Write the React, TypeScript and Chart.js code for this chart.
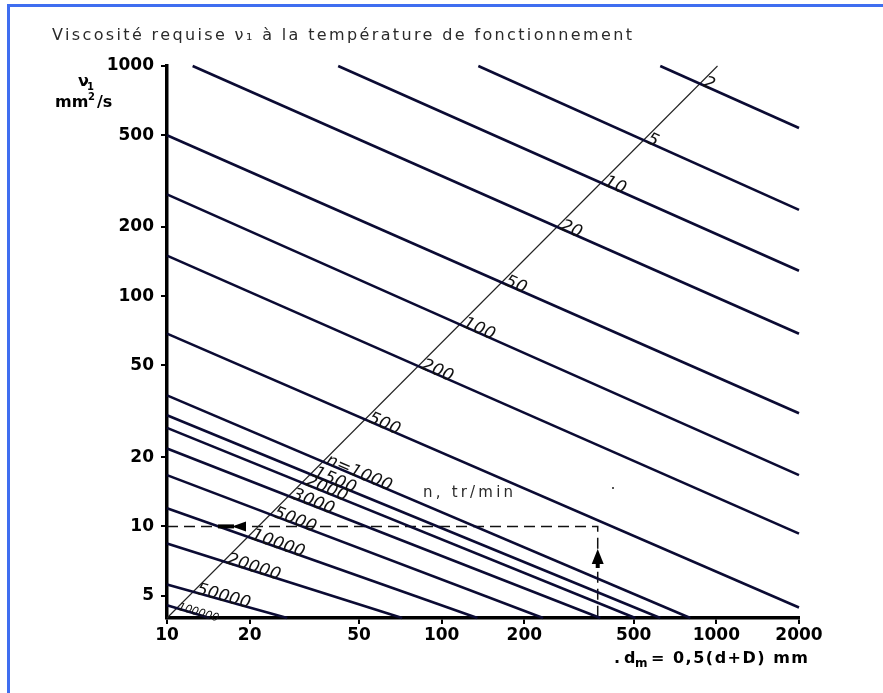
import React, { useEffect, useRef } from 'react';
import { Chart, registerables } from 'chart.js';

Chart.register(...registerables);

// Speed labels (n, tr/min) for each line
const speeds = ['2', '5', '10', '20', '50', '100', '200', '500', 'n=1000', '1500', '2000', '3000', '5000', '10000', '20000', '50000', '100000'];
// Line start points (dm mm, viscosity mm²/s)
const startDm = [625, 136, 42, 12.4, 10, 10, 10, 10, 10, 10, 10, 10, 10, 10, 10, 10, 10];
const startNu = [1000, 1000, 1000, 1000, 500, 277, 150, 68.8, 37.1, 30.4, 26.8, 21.8, 16.7, 12.0, 8.43, 5.59, 4.54];
// Line end points
const endDm = [2000, 2000, 2000, 2000, 2000, 2000, 2000, 2000, 804, 625, 507, 378, 234, 135, 71.8, 27.4, 14.3];
const endNu = [538, 237, 129, 68.7, 31.0, 16.7, 9.3, 4.44, 4, 4, 4, 4, 4, 4, 4, 4, 4];
// Speed reference diagonal
const diagDm = [10, 1010];
const diagNu = [4, 1000];
// Worked example
const exampleDm = [10, 370, 370];
const exampleNu = [10, 10, 4];
// Axis ticks
const xTicks = [10, 20, 50, 100, 200, 500, 1000, 2000];
const yTicks = [5, 10, 20, 50, 100, 200, 500, 1000];

const W = 883;
const H = 693;

function fitText(ctx: CanvasRenderingContext2D, text: string, x: number, y: number, targetW: number) {
  (ctx as any).letterSpacing = '0px';
  const w = ctx.measureText(text).width;
  const n = Math.max(1, text.length - 1);
  const ls = (targetW - w) / n;
  (ctx as any).letterSpacing = `${ls}px`;
  ctx.fillText(text, x, y);
  (ctx as any).letterSpacing = '0px';
}

const decorPlugin = {
  id: 'decor',
  beforeDraw(chart: any) {
    const ctx = chart.ctx as CanvasRenderingContext2D;
    ctx.save();
    ctx.fillStyle = '#ffffff';
    ctx.fillRect(0, 0, W, H);
    ctx.fillStyle = '#3f6ef0';
    ctx.fillRect(7, 4, W - 7, 3);
    ctx.fillRect(7, 4, 3, H - 4);
    ctx.restore();
  },
  afterDraw(chart: any) {
    const ctx = chart.ctx as CanvasRenderingContext2D;
    const xs = chart.scales.x;
    const ys = chart.scales.y;
    const area = chart.chartArea;
    ctx.save();

    // speed labels along the diagonal
    const dx1 = xs.getPixelForValue(diagDm[0]);
    const dy1 = ys.getPixelForValue(diagNu[0]);
    const dx2 = xs.getPixelForValue(diagDm[1]);
    const dy2 = ys.getPixelForValue(diagNu[1]);
    ctx.fillStyle = '#111';
    ctx.textBaseline = 'alphabetic';
    ctx.textAlign = 'left';
    speeds.forEach((lab, i) => {
      const ax = xs.getPixelForValue(startDm[i]);
      const ay = ys.getPixelForValue(startNu[i]);
      const bx = xs.getPixelForValue(endDm[i]);
      const by = ys.getPixelForValue(endNu[i]);
      const rx = bx - ax, ry = by - ay;
      const sx = dx2 - dx1, sy = dy2 - dy1;
      const den = rx * sy - ry * sx;
      const t = ((dx1 - ax) * sy - (dy1 - ay) * sx) / den;
      const px = ax + t * rx;
      const py = ay + t * ry;
      const ang = Math.atan2(ry, rx);
      ctx.save();
      ctx.translate(px, py);
      ctx.rotate(ang);
      const small = i === speeds.length - 1;
      ctx.font = `italic ${small ? 11 : 17}px "DejaVu Sans"`;
      (ctx as any).letterSpacing = small ? '0px' : '0.3px';
      ctx.fillText(lab, small ? 1 : 3, 1);
      (ctx as any).letterSpacing = '0px';
      ctx.restore();
    });

    // arrows on the worked example
    const yTen = ys.getPixelForValue(exampleNu[0]);
    const xEx = xs.getPixelForValue(exampleDm[1]);
    ctx.fillStyle = '#000';
    // horizontal arrow (pointing left)
    const hx = area.left + 51;
    ctx.fillRect(hx, yTen - 2, 16, 4);
    ctx.beginPath();
    ctx.moveTo(hx + 14, yTen);
    ctx.lineTo(hx + 28, yTen - 5);
    ctx.lineTo(hx + 28, yTen + 5);
    ctx.closePath();
    ctx.fill();
    // vertical arrow (pointing up)
    const vy = area.bottom - 69;
    ctx.beginPath();
    ctx.moveTo(xEx, vy);
    ctx.lineTo(xEx - 6, vy + 15);
    ctx.lineTo(xEx + 6, vy + 15);
    ctx.closePath();
    ctx.fill();
    ctx.fillRect(xEx - 2, vy + 14, 4, 5);

    // stray print dot
    ctx.fillStyle = '#555';
    ctx.fillRect(612, 487, 2, 2);

    // title
    ctx.fillStyle = '#2a2a2a';
    ctx.font = '16px "DejaVu Sans"';
    ctx.textAlign = 'left';
    fitText(ctx, 'Viscosité requise ν₁ à la température de fonctionnement', 52, 40, 580);

    // n, tr/min
    ctx.font = '15px "DejaVu Sans"';
    fitText(ctx, 'n, tr/min', 423, 497, 90);

    // y axis title
    ctx.fillStyle = '#000';
    ctx.font = 'bold 16px "DejaVu Sans"';
    ctx.fillText('ν', 78, 86);
    ctx.font = 'bold 10px "DejaVu Sans"';
    ctx.fillText('1', 87, 90);
    ctx.font = 'bold 16px "DejaVu Sans"';
    ctx.fillText('mm', 55, 107);
    ctx.font = 'bold 10px "DejaVu Sans"';
    ctx.fillText('2', 88, 100);
    ctx.font = 'bold 16px "DejaVu Sans"';
    ctx.fillText('/s', 97, 107);

    // x axis title
    ctx.font = 'bold 16px "DejaVu Sans"';
    ctx.fillText('.', 614, 663);
    ctx.fillText('d', 624, 663);
    ctx.font = 'bold 12px "DejaVu Sans"';
    ctx.fillText('m', 635, 667);
    ctx.font = 'bold 16px "DejaVu Sans"';
    fitText(ctx, '= 0,5(d+D) mm', 651, 663, 157);

    ctx.restore();
  },
};

export default function App() {
  const ref = useRef<HTMLCanvasElement | null>(null);

  useEffect(() => {
    if (!ref.current) return;
    const lineColor = '#0b0b33';
    const datasets: any[] = speeds.map((lab, i) => ({
      label: lab,
      data: [
        { x: startDm[i], y: startNu[i] },
        { x: endDm[i], y: endNu[i] },
      ],
      showLine: true,
      borderColor: lineColor,
      borderWidth: 2.6,
      pointRadius: 0,
      clip: false,
    }));
    datasets.push({
      label: 'diag',
      data: diagDm.map((d, i) => ({ x: d, y: diagNu[i] })),
      showLine: true,
      borderColor: '#222',
      borderWidth: 1.1,
      pointRadius: 0,
      clip: false,
    });
    datasets.push({
      label: 'example',
      data: exampleDm.map((d, i) => ({ x: d, y: exampleNu[i] })),
      showLine: true,
      borderColor: '#111',
      borderWidth: 1.5,
      borderDash: [11, 6],
      pointRadius: 0,
      clip: false,
    });

    const tickFont = { family: 'DejaVu Sans', weight: 'bold' as const, size: 17 };
    const chart = new Chart(ref.current, {
      type: 'scatter',
      data: { datasets },
      options: {
        responsive: false,
        animation: false,
        layout: { padding: { top: 66, right: 84, left: 0, bottom: 0 } },
        plugins: {
          legend: { display: false },
          tooltip: { enabled: false },
          title: { display: false },
        },
        scales: {
          x: {
            type: 'logarithmic',
            min: 10,
            max: 2000,
            afterBuildTicks: (s: any) => {
              s.ticks = xTicks.map((v) => ({ value: v }));
            },
            afterFit: (s: any) => {
              s.height = 75;
            },
            ticks: {
              autoSkip: false,
              maxRotation: 0,
              color: '#000',
              font: tickFont,
              padding: 1,
              callback: (v: any) => String(v),
            },
            grid: { drawOnChartArea: false, drawTicks: true, tickLength: 6, color: '#000', lineWidth: 2 },
            border: { display: true, color: '#000', width: 3.5 },
          },
          y: {
            type: 'logarithmic',
            min: 4,
            max: 1000,
            afterBuildTicks: (s: any) => {
              s.ticks = yTicks.map((v) => ({ value: v }));
            },
            afterFit: (s: any) => {
              s.width = 167;
            },
            ticks: {
              autoSkip: false,
              color: '#000',
              font: tickFont,
              padding: 7,
              callback: (v: any) => String(v),
            },
            grid: { drawOnChartArea: false, drawTicks: true, tickLength: 6, color: '#000', lineWidth: 2 },
            border: { display: true, color: '#000', width: 3.5 },
          },
        },
      },
      plugins: [decorPlugin],
    });
    return () => chart.destroy();
  }, []);

  return (
    <div style={{ position: 'absolute', left: 0, top: 0, width: W, height: H, background: '#fff' }}>
      <canvas ref={ref} width={W} height={H} style={{ display: 'block', width: W, height: H }} />
    </div>
  );
}
